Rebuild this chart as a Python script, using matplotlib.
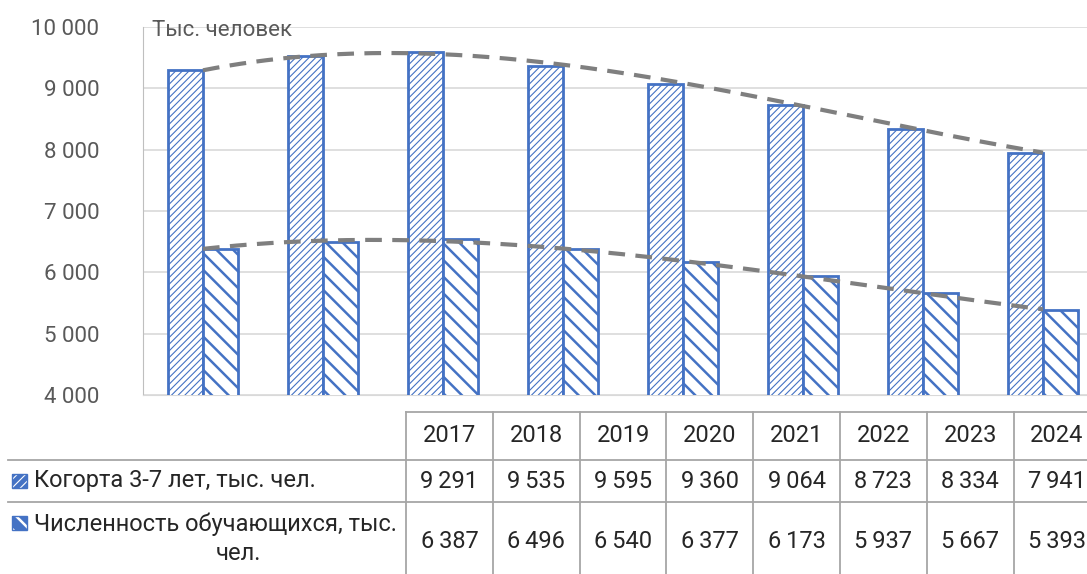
import numpy as np
import matplotlib.pyplot as plt
from matplotlib.patches import Rectangle
from matplotlib.lines import Line2D

plt.rcParams['font.family'] = ['Roboto', 'DejaVu Sans']

years = ['2017', '2018', '2019', '2020', '2021', '2022', '2023', '2024']
cohort = [9291, 9535, 9595, 9360, 9064, 8723, 8334, 7941]
students = [6387, 6496, 6540, 6377, 6173, 5937, 5667, 5393]
row_labels = ['Когорта 3-7 лет, тыс. чел.', 'Численность обучающихся, тыс.\nчел.']
y_ticks = [4000, 5000, 6000, 7000, 8000, 9000, 10000]

W, H = 1087, 574
blue = '#4472c4'
grey_txt = '#595959'

def fx(px):
    return px / W

def fy(py):
    return 1 - py / H

def fmt(v, sep=' '):
    return f'{v:,}'.replace(',', sep)

fig = plt.figure(figsize=(W / 100, H / 100), dpi=100)
# axes extends a bit past the right edge like the cropped original
ax = fig.add_axes([fx(143), fy(395), 960 / W, (395 - 27) / H])

x = np.arange(len(years))
bw = 0.29
plt.rcParams['hatch.linewidth'] = 0.8
ax.bar(x - bw / 2, cohort, bw, color='white', edgecolor=blue,
       hatch='/////', linewidth=2, zorder=3)
plt.rcParams['hatch.linewidth'] = 1.8
ax.bar(x + bw / 2, students, bw, color='white', edgecolor=blue,
       hatch='\\\\', linewidth=2, zorder=3)

# polynomial trend lines, like Excel
for series in (cohort, students):
    c = np.polyfit(x, series, 3)
    xs = np.linspace(0, len(years) - 1, 200)
    ax.plot(xs, np.polyval(c, xs), color='#7f7f7f', lw=3, dashes=(4, 2.5),
            zorder=4)

ax.set_xlim(-0.5, len(years) - 0.5)
ax.set_ylim(4000, 10000)
ax.set_yticks(y_ticks)
ax.set_yticklabels([fmt(v) for v in y_ticks], color=grey_txt, fontsize=16)
ax.tick_params(axis='y', length=0, pad=31.5)
ax.set_xticks([])
ax.grid(axis='y', color='#d9d9d9', lw=1.2, zorder=0)
for s in ['top', 'right']:
    ax.spines[s].set_visible(False)
ax.spines['left'].set_color('#bfbfbf')
ax.spines['bottom'].set_color('#d9d9d9')
ax.text(0.009, 0.99, 'Тыс. человек', transform=ax.transAxes, color=grey_txt,
        fontsize=16, va='center', ha='left')

# data table under the chart
col0 = 406
cw = 86.8
lc = '#a6a6a6'
def hline(y, x0, x1):
    fig.add_artist(Line2D([fx(x0), fx(x1)], [fy(y), fy(y)], color=lc, lw=1.3))
def vline(xp, y0, y1):
    fig.add_artist(Line2D([fx(xp), fx(xp)], [fy(y0), fy(y1)], color=lc, lw=1.3))

hline(412, col0, W)
hline(460, 8, W)
hline(502, 8, W)
for i in range(len(years) + 1):
    vline(col0 + i * cw, 412, H)

txt = '#262626'
fs = 17
for i, yr in enumerate(years):
    cx = fx(col0 + (i + 0.5) * cw)
    fig.text(cx, fy(436), yr, ha='center', va='center', fontsize=fs, color=txt)
    fig.text(cx, fy(481), fmt(cohort[i], '\u2009'), ha='center', va='center', fontsize=fs, color=txt)
    fig.text(cx, fy(541), fmt(students[i], '\u2009'), ha='center', va='center', fontsize=fs, color=txt)

fig.text(fx(34), fy(481), row_labels[0], ha='left', va='center', fontsize=fs, color=txt)
l1, l2 = row_labels[1].split('\n')
fig.text(fx(34), fy(524), l1, ha='left', va='center', fontsize=fs, color=txt)
fig.text(fx(238), fy(554), l2, ha='center', va='center', fontsize=fs, color=txt)

# legend keys
for ytop, h, hlw in ((474, '////', 0.8), (516, '\\\\', 1.8)):
    plt.rcParams['hatch.linewidth'] = hlw
    fig.add_artist(Rectangle((fx(12), fy(ytop + 14)), fx(15), 14 / H,
                             facecolor=blue, edgecolor='white', hatch=h, lw=0))
    fig.add_artist(Rectangle((fx(12), fy(ytop + 14)), fx(15), 14 / H,
                             facecolor='none', edgecolor=blue, lw=1))

fig.savefig('out.png', dpi=100)
